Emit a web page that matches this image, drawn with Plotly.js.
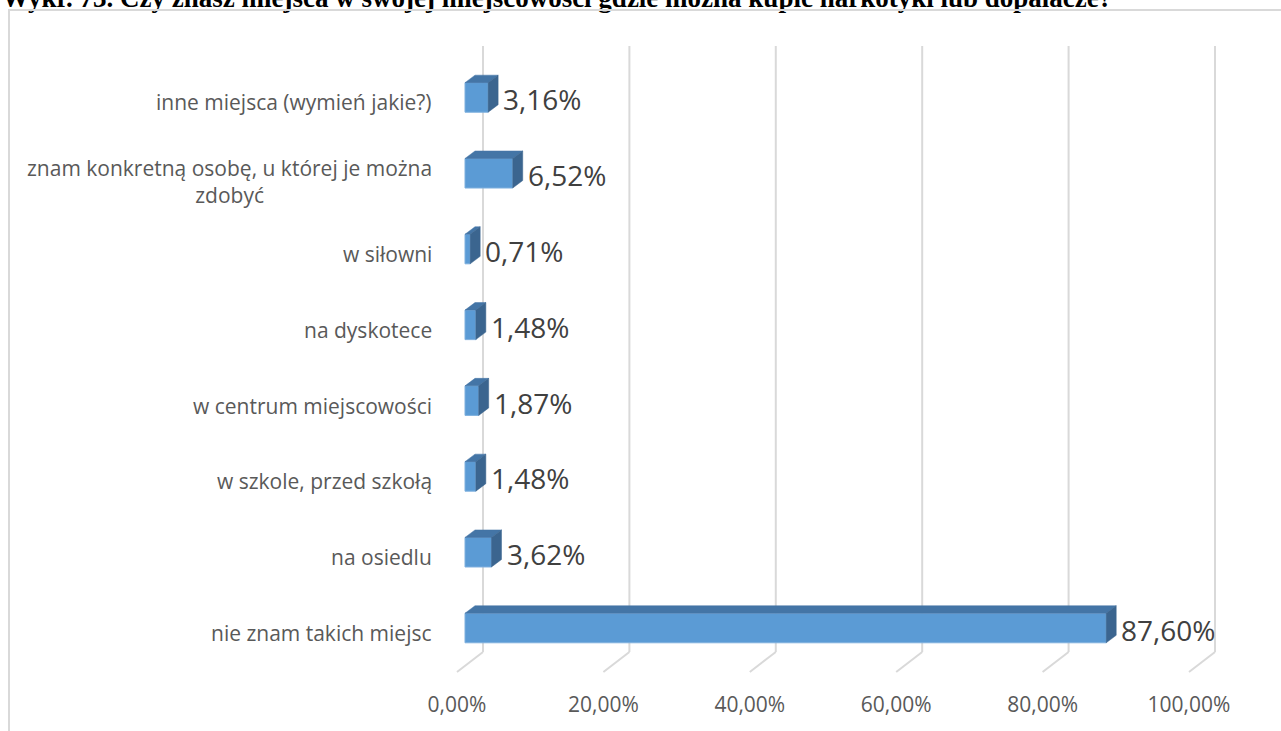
<!DOCTYPE html>
<html>
<head>
<meta charset="utf-8">
<script src="https://cdn.plot.ly/plotly-3.0.1.min.js"></script>
<style>
  html, body { margin: 0; padding: 0; background: #ffffff; overflow: hidden; }
  #chart { position: absolute; left: 0; top: 0; width: 1281px; height: 731px; }
  #frame { position: absolute; left: 8px; top: 9px; width: 1300px; height: 760px;
           border: 2px solid #d9d9d9; pointer-events: none; z-index: 5; box-sizing: border-box; }
</style>
</head>
<body>
<div id="chart"></div>
<div id="frame"></div>
<script>
// ---- data (bottom to top) ----
const categories = [
  'nie znam takich miejsc',
  'na osiedlu',
  'w szkole, przed szkołą',
  'w centrum miejscowości',
  'na dyskotece',
  'w siłowni',
  'znam konkretną osobę, u której je można<br>zdobyć',
  'inne miejsca (wymień jakie?)'
];
const values = [87.60, 3.62, 1.48, 1.87, 1.48, 0.71, 6.52, 3.16];
const tickValues = [0, 20, 40, 60, 80, 100];
const tickLabels = ['0,00%', '20,00%', '40,00%', '60,00%', '80,00%', '100,00%'];
const titleText = 'Wykr. 73. Czy znasz miejsca w swojej miejscowości gdzie można kupić narkotyki lub dopalacze?';

// ---- layout geometry ----
const W = 1281, H = 731;
const M = { l: 440, r: 51, t: 40, b: 51 };
const xRange = [-3.415, 104.51];
const yRange = [-0.686, 7.758];
const plotW = W - M.l - M.r, plotH = H - M.t - M.b;
const pxX = plotW / (xRange[1] - xRange[0]);
const pxY = plotH / (yRange[1] - yRange[0]);
const px2x = p => p / pxX;
const px2y = p => p / pxY;

const barW = 0.39;
const half = barW / 2;
const depthX = px2x(10), depthY = px2y(7.5);
const yIdx = categories.map((c, i) => i);

// 3D faces
const topX = [], topY = [], sideX = [], sideY = [];
values.forEach((v, i) => {
  const k = yIdx[i];
  topX.push(0, v, v + depthX, depthX, 0, null);
  topY.push(k + half, k + half, k + half + depthY, k + half + depthY, k + half, null);
  sideX.push(v, v, v + depthX, v + depthX, v, null);
  sideY.push(k - half, k + half, k + half + depthY, k - half + depthY, k - half, null);
});

const traces = [
  {
    type: 'bar', orientation: 'h', x: values, y: yIdx, width: barW,
    marker: { color: '#5b9bd5', line: { color: '#7fb0de', width: 1 } },
    hoverinfo: 'skip'
  },
  {
    type: 'scatter', mode: 'lines', x: topX, y: topY, fill: 'toself',
    fillcolor: '#4475a6', line: { color: '#4475a6', width: 0.5 }, hoverinfo: 'skip'
  },
  {
    type: 'scatter', mode: 'lines', x: sideX, y: sideY, fill: 'toself',
    fillcolor: '#3b658f', line: { color: '#3b658f', width: 0.5 }, hoverinfo: 'skip'
  }
];

// gridlines (back wall + floor diagonal)
const wallX = px2x(18), floorX = px2x(8);
const gridTop = 7.679, wallBottom = -0.317, floorFront = -0.58;
const shapes = [];
tickValues.forEach(t => {
  shapes.push({ type: 'line', xref: 'x', yref: 'y', layer: 'below',
    x0: t + wallX, x1: t + wallX, y0: wallBottom, y1: gridTop,
    line: { color: '#d9d9d9', width: 2 } });
  shapes.push({ type: 'line', xref: 'x', yref: 'y', layer: 'below',
    x0: t + wallX, x1: t - floorX, y0: wallBottom, y1: floorFront,
    line: { color: '#d9d9d9', width: 2 } });
});

const annotations = [];
// category labels
categories.forEach((c, i) => {
  annotations.push({
    xref: 'paper', yref: 'y', x: 0, y: yIdx[i], xanchor: 'right', yanchor: 'middle',
    xshift: -6, yshift: c.indexOf('<br>') >= 0 ? -8 : -5,
    text: c, align: 'center', showarrow: false,
    font: { family: 'Open Sans', size: 21, color: '#595959' }
  });
});
// data labels
values.forEach((v, i) => {
  annotations.push({
    xref: 'x', yref: 'y', x: v + depthX, y: yIdx[i], xanchor: 'left', yanchor: 'middle',
    xshift: 3, yshift: -2,
    text: v.toFixed(2).replace('.', ',') + '%', showarrow: false,
    font: { family: 'Open Sans', size: 28, color: '#404040' }
  });
});
// title (clipped at the top edge, as in the reference)
annotations.push({
  xref: 'paper', yref: 'paper', x: -M.l / plotW, y: 1, xanchor: 'left', yanchor: 'middle',
  yshift: M.t + 2, text: '<b>' + titleText + '</b>', showarrow: false,
  font: { family: 'Liberation Serif', size: 27, color: '#000000' }
});

const layout = {
  width: W, height: H,
  margin: M,
  paper_bgcolor: '#ffffff', plot_bgcolor: '#ffffff',
  showlegend: false,
  xaxis: {
    range: xRange, tickvals: tickValues, ticktext: tickLabels,
    showgrid: false, zeroline: false, showline: false, ticks: '',
    ticklabelshift: -8, ticklabelstandoff: 10,
    tickfont: { family: 'Open Sans', size: 21, color: '#595959' },
    fixedrange: true
  },
  yaxis: {
    range: yRange, showticklabels: false, showgrid: false, zeroline: false,
    showline: false, ticks: '', fixedrange: true
  },
  shapes: shapes,
  annotations: annotations,
  bargap: 0
};

Plotly.newPlot('chart', traces, layout, { displayModeBar: false, staticPlot: true });
</script>
</body>
</html>
